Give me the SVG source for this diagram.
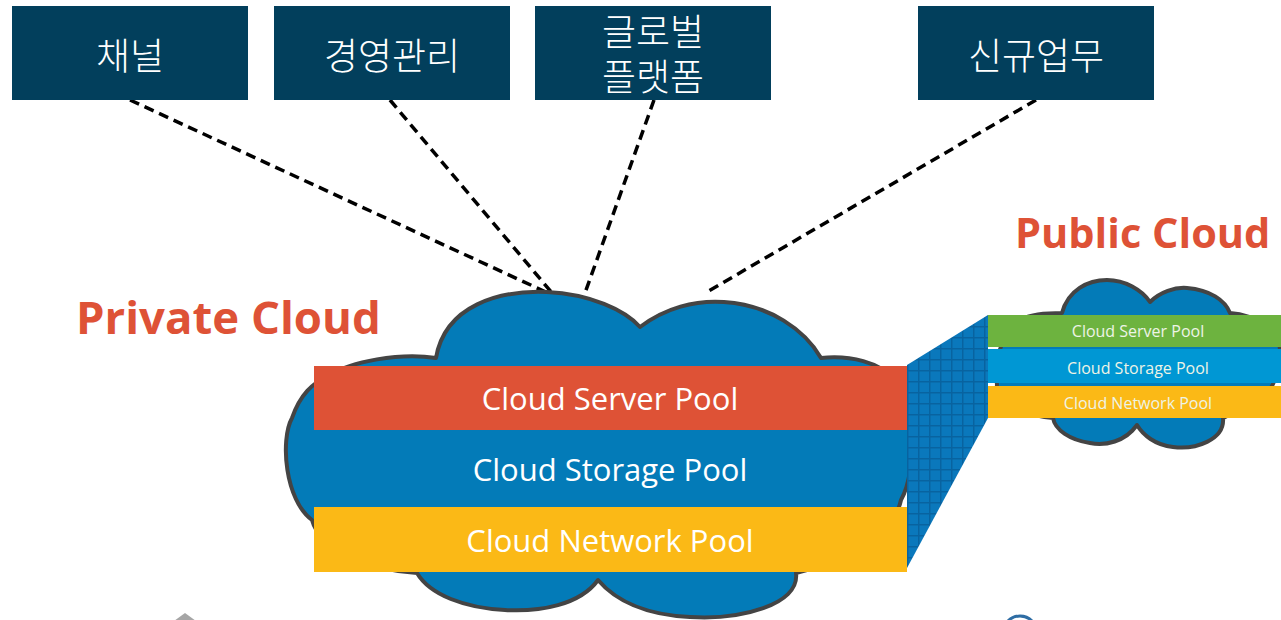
<svg xmlns="http://www.w3.org/2000/svg" width="1281" height="620" viewBox="0 0 1281 620">
<style>
.box{fill:#023F5C}
.kr{font-family:"Noto Sans CJK KR","Noto Sans",sans-serif;font-size:37px;font-weight:300;fill:#fff;text-anchor:middle}
.dash{fill:none;stroke:#000;stroke-width:3.5;stroke-dasharray:10 6}
.cloud{fill:#037BB8;stroke:#444;stroke-width:4;stroke-linejoin:round}
.big{font-family:"Open Sans","Noto Sans",sans-serif;font-size:31px;fill:#fff;text-anchor:middle}
.sm{font-family:"Open Sans","Noto Sans",sans-serif;font-size:16px;fill:#EEF4E6;text-anchor:middle}
.title{font-family:"Open Sans","Noto Sans",sans-serif;font-weight:bold;fill:#DE5236}
</style>
<defs>
<pattern id="grid" width="11" height="11" patternUnits="userSpaceOnUse" x="907" y="315">
<rect width="11" height="11" fill="#0A78BC"/>
<path d="M0,0.75H11M0.75,0V11" stroke="#0863A0" stroke-width="1.5" fill="none"/>
</pattern>
</defs>

<g id="connectors">
<line class="dash" x1="130" y1="100" x2="548" y2="293"/>
<line class="dash" x1="390" y1="100" x2="552" y2="293"/>
<line class="dash" x1="654" y1="100" x2="585" y2="293"/>
<line class="dash" x1="1036" y1="100" x2="707" y2="292"/>
</g>

<g id="box-channel"><rect class="box" x="12" y="6" width="236" height="94"/><text class="kr" x="130" y="70">채널</text></g>
<g id="box-mgmt"><rect class="box" x="274" y="6" width="236" height="94"/><text class="kr" x="392" y="70">경영관리</text></g>
<g id="box-global"><rect class="box" x="535" y="6" width="236" height="94"/><text class="kr" x="653" y="46">글로벌<tspan x="653" y="91">플랫폼</tspan></text></g>
<g id="box-new"><rect class="box" x="918" y="6" width="236" height="94"/><text class="kr" x="1036" y="70">신규업무</text></g>

<g id="private-cloud">
<path class="cloud" d="M436,358 C445,305 500,290 547,292 C590,294 625,310 640,327 C665,308 695,300 724,302 C770,305 805,330 821,358 C850,355 880,362 895,380 C915,400 918,470 901,500 C895,530 850,560 796,573 C800,605 740,620 690,617 C645,615 615,600 598,580 C580,605 540,612 505,610 C465,608 430,595 417,573 C370,570 320,550 312,520 C285,500 280,440 292,418 C300,395 312,383 330,375 C350,362 400,352 436,358 Z"/>
<text class="title" x="76" y="334" font-size="45.5">Private Cloud</text>
</g>

<g id="server-pool"><rect x="314" y="366" width="593" height="64" fill="#DE5236"/><text class="big" x="610" y="410">Cloud Server Pool</text></g>
<g id="storage-pool"><text class="big" x="610" y="481">Cloud Storage Pool</text></g>
<g id="network-pool"><rect x="314" y="507" width="593" height="65" fill="#FBB916"/><text class="big" x="610" y="552">Cloud Network Pool</text></g>

<g id="link">
<polygon points="907,365 988,315 988,418 907,568" fill="url(#grid)"/>
</g>

<g id="public-cloud">
<path class="cloud" d="M1062,313 C1068,290 1088,280 1107,280 C1125,280 1142,290 1150,302 C1160,292 1175,287 1187,288 C1210,290 1225,300 1230,313 C1255,315 1280,330 1280,350 C1280,372 1275,385 1265,395 C1250,408 1235,412 1223,418 C1225,440 1195,450 1173,447 C1155,445 1143,435 1137,425 C1125,442 1105,446 1090,443 C1070,440 1055,430 1053,418 C1020,415 995,400 997,385 C995,365 997,350 1005,340 C1010,320 1025,313 1062,313 Z"/>
<text class="title" x="1015" y="248" font-size="41.5">Public Cloud</text>
</g>
<g id="pub-server"><rect x="988" y="315" width="293" height="32" fill="#6DB33F"/><text class="sm" x="1138" y="337">Cloud Server Pool</text></g>
<g id="pub-storage"><rect x="988" y="349" width="293" height="34" fill="#0097D4"/><text class="sm" x="1138" y="374">Cloud Storage Pool</text></g>
<g id="pub-network"><rect x="988" y="386" width="293" height="32" fill="#FBB916"/><text class="sm" x="1138" y="409">Cloud Network Pool</text></g>

<g id="bottom-partials">
<polygon points="185,613 174,621 196,621" fill="#A6A6A6"/>
<circle cx="1020" cy="633" r="17" fill="none" stroke="#2E6DA4" stroke-width="3"/>
</g>
</svg>
